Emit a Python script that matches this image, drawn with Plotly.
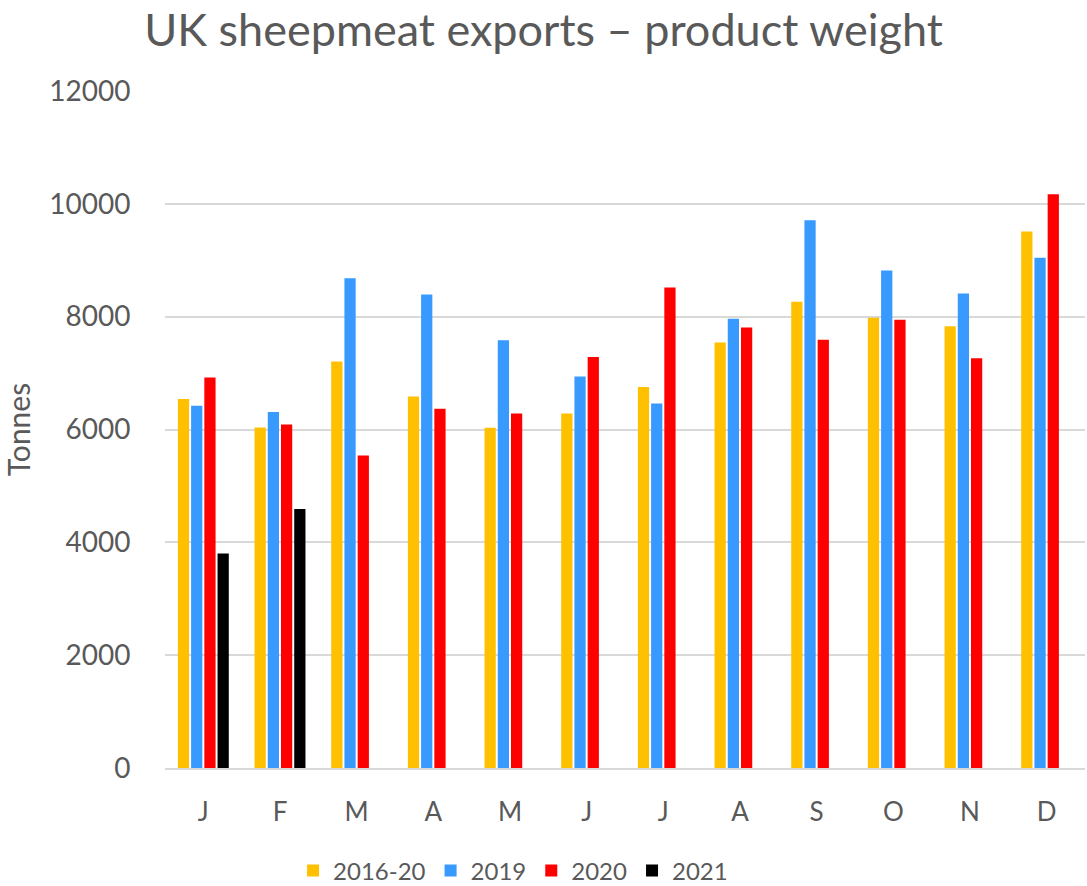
import plotly.graph_objects as go

months = ["J", "F", "M", "A", "M", "J", "J", "A", "S", "O", "N", "D"]
avg_2016_20 = [6540, 6035, 7205, 6585, 6030, 6285, 6755, 7540, 8265, 7980, 7830, 9510]
y2019 = [6420, 6310, 8680, 8395, 7580, 6940, 6460, 7965, 9710, 8820, 8410, 9045]
y2020 = [6920, 6090, 5540, 6370, 6285, 7285, 8515, 7810, 7590, 7945, 7265, 10170]
y2021 = [3800, 4590, None, None, None, None, None, None, None, None, None, None]

series = [
    ("2016-20", avg_2016_20, "#FFC000"),
    ("2019", y2019, "#3899FF"),
    ("2020", y2020, "#FF0000"),
    ("2021", y2021, "#000000"),
]

xpos = list(range(len(months)))
fig = go.Figure()
for name, vals, col in series:
    fig.add_trace(go.Bar(x=xpos, y=vals, name=name, marker_color=col,
                         marker_line_width=0))

font_family = "Lato, Open Sans, sans-serif"
grey = "#595959"
fig.update_layout(
    width=1087, height=886,
    paper_bgcolor="white", plot_bgcolor="white",
    margin=dict(l=165, r=2, t=91, b=118),
    barmode="group", bargap=0.31, bargroupgap=0.15,
    title=dict(text="UK sheepmeat exports – product weight",
               x=0.5, xanchor="center", xref="container",
               y=0.966, yanchor="middle", yref="container",
               font=dict(family=font_family, size=45, color=grey)),
    font=dict(family=font_family, color=grey),
    showlegend=True,
    legend=dict(orientation="h", x=0.472, xanchor="center", xref="container",
                y=0.017, yanchor="middle", yref="container",
                font=dict(size=24, color=grey), itemwidth=30,
                traceorder="normal"),
    xaxis=dict(tickmode="array", tickvals=xpos, ticktext=months,
               range=[-0.5, 11.5], showgrid=False, showline=True,
               linecolor="#D9D9D9", linewidth=1.5,
               ticks="outside", ticklen=20, tickcolor="rgba(0,0,0,0)",
               tickfont=dict(size=26, color=grey)),
    yaxis=dict(range=[0, 12000], dtick=2000, tickformat="d", showgrid=True,
               gridcolor="#D9D9D9", gridwidth=1.5, zeroline=False,
               showline=False, ticks="outside", ticklen=28,
               tickcolor="rgba(0,0,0,0)",
               tickfont=dict(size=28, color=grey),
               title=dict(text="Tonnes", font=dict(size=30, color=grey),
                          standoff=23)),
)

fig.write_html("out.html")
